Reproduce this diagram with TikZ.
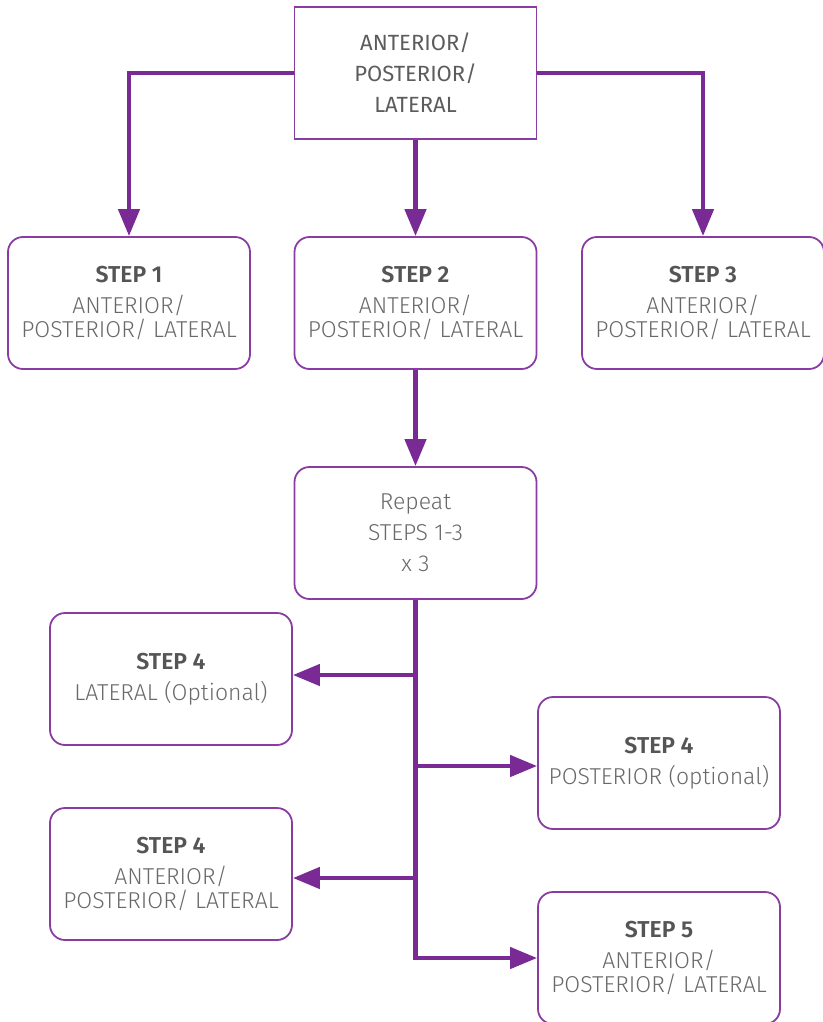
\documentclass[tikz,border=0pt]{standalone}
\usepackage{fontspec}
\setmainfont{Fira Sans}[UprightFont=* Light, BoldFont=* SemiBold]
\newfontfamily\regfont{Fira Sans}
\usetikzlibrary{arrows.meta}
\definecolor{purp}{RGB}{122,42,148}
\definecolor{boxpurp}{RGB}{138,60,162}
\definecolor{txt}{RGB}{105,105,105}
\definecolor{toptxt}{RGB}{92,92,92}
\definecolor{bold}{RGB}{85,85,85}
\tikzset{
  box/.style={draw=boxpurp, line width=1.8pt, minimum width=242pt, minimum height=132pt,
    inner sep=0pt, align=center, text=txt, font=\fontsize{23}{24}\selectfont},
  rbox/.style={box, rounded corners=15pt},
  conn/.style={draw=purp, line width=4.5pt, -{Triangle[length=27pt,width=21pt]}},
}
\newcommand{\stp}[1]{{\color{bold}\bfseries #1}\\[7pt]}
\begin{document}
\begin{tikzpicture}[x=1pt,y=-1pt]
\useasboundingbox (0,0) rectangle (822,1022);
\node[box, text=toptxt, font=\regfont\fontsize{22}{31}\selectfont] (top) at (415.5,73) {ANTERIOR/\\POSTERIOR/\\LATERAL};
\node[rbox] (s1) at (129,303) {\stp{STEP 1}ANTERIOR/\\POSTERIOR/ LATERAL};
\node[rbox] (s2) at (415.5,303) {\stp{STEP 2}ANTERIOR/\\POSTERIOR/ LATERAL};
\node[rbox] (s3) at (703,303) {\stp{STEP 3}ANTERIOR/\\POSTERIOR/ LATERAL};
\node[rbox, font=\fontsize{23}{31}\selectfont] (rep) at (415.5,533) {Repeat\\STEPS 1-3\\x 3};
\node[rbox] (s4a) at (171,679) {\stp{STEP 4}LATERAL (Optional)};
\node[rbox] (s4b) at (659,763) {\stp{STEP 4}POSTERIOR (optional)};
\node[rbox] (s4c) at (171,874) {\stp{STEP 4}ANTERIOR/\\POSTERIOR/ LATERAL};
\node[rbox] (s5) at (659,958) {\stp{STEP 5}ANTERIOR/\\POSTERIOR/ LATERAL};
\draw[conn] (top.west) -| (s1.north);
\draw[conn] (top.east) -| (s3.north);
\draw[conn] (top.south) -- (s2.north);
\draw[conn] (s2.south) -- (rep.north);
\draw[conn] (rep.south) |- (s5.west);
\coordinate (j1) at (415.5,675);
\coordinate (j2) at (415.5,766);
\coordinate (j3) at (415.5,878);
\draw[conn] (j1) -- (j1 -| s4a.east);
\draw[conn] (j2) -- (j2 -| s4b.west);
\draw[conn] (j3) -- (j3 -| s4c.east);
\end{tikzpicture}
\end{document}
